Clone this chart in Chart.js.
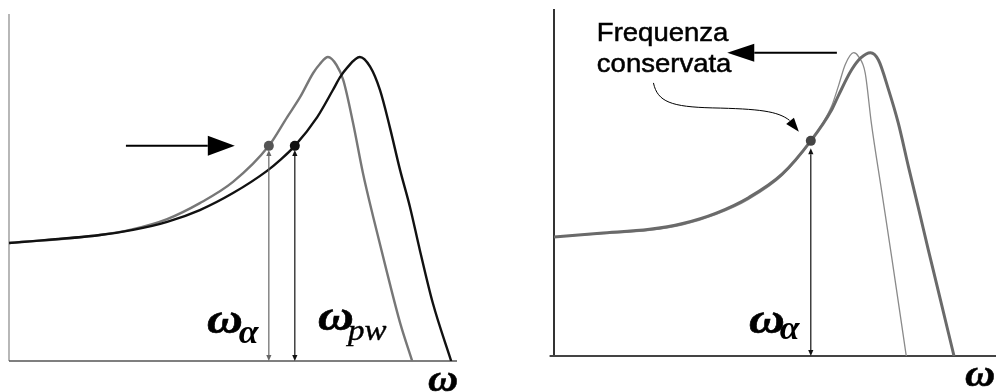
<!DOCTYPE html>
<html>
<head>
<meta charset="utf-8">
<script src="https://cdn.jsdelivr.net/npm/chart.js@4.4.0/dist/chart.umd.min.js"></script>
<style>
  html, body { margin: 0; padding: 0; background: #fff; overflow: hidden; }
  #wrap { position: relative; width: 1001px; height: 392px; }
  .panel { position: absolute; top: 0; height: 392px; }
  #pl { left: 0; width: 500px; }
  #pr { left: 500px; width: 501px; }
</style>
</head>
<body>
<div id="wrap">
  <div class="panel" id="pl"><canvas id="left"></canvas></div>
  <div class="panel" id="pr"><canvas id="right"></canvas></div>
</div>
<script>
// ---- Left panel: original response (grey) and pre-warped response (black) ----
const leftGreyX  = [0, 20.3, 27.7, 35.3, 42.6, 50.0, 58.0, 62.1, 65.0, 67.9, 69.4, 71.2, 73.1, 74.6, 76.8, 79.0, 81.3, 84.4, 87.3, 90.0];
const leftGreyY  = [34.0, 36.3, 38.0, 40.9, 45.5, 51.6, 62.0, 70.3, 76.1, 83.0, 85.6, 87.6, 85.3, 81.0, 68.6, 54.2, 41.5, 25.4, 11.0, 0];
const leftBlackX = [0, 20.3, 27.7, 35.3, 42.6, 50.0, 57.6, 60.5, 63.8, 68.8, 72.3, 73.9, 75.4, 78.3, 80.6, 82.8, 85.0, 87.3, 89.5, 91.7, 94.6, 98.7];
const leftBlackY = [34.0, 36.3, 37.8, 40.1, 43.5, 48.4, 54.8, 57.9, 62.0, 70.3, 78.1, 81.8, 84.4, 87.6, 84.8, 78.1, 67.4, 55.0, 44.4, 32.0, 16.7, 0];
// marked frequencies: ω_α on the grey curve, ω_pw on the black curve
const leftAlphaPoint = [58.0, 62.0];
const leftPwPoint    = [63.8, 62.0];

// ---- Right panel: two responses sharing the preserved frequency ----
const rightThinX  = [0, 10.4, 21.6, 29.1, 36.7, 44.1, 51.6, 58.1, 62.8, 64.4, 65.9, 67.8, 68.9, 70.4, 71.8, 74.1, 76.4, 79.7];
const rightThinY  = [34.3, 35.2, 36.2, 37.8, 40.8, 45.2, 52.0, 62.0, 72.0, 78.0, 84.0, 87.4, 86.3, 81.6, 67.1, 47.8, 28.5, 0];
const rightThickX = [0, 10.4, 21.6, 29.1, 36.7, 44.1, 51.6, 58.1, 62.8, 64.4, 67.3, 69.4, 71.6, 73.4, 75.7, 77.9, 80.2, 82.4, 84.7, 86.9, 90.5];
const rightThickY = [34.3, 35.4, 36.5, 38.2, 41.2, 45.7, 52.4, 62.0, 70.9, 75.2, 82.4, 85.9, 87.4, 85.3, 76.7, 67.1, 54.5, 42.9, 30.5, 19.0, 0];
const rightAlphaPoint = [58.1, 62.0];

const toPoints = (xs, ys) => xs.map((x, i) => ({ x, y: ys[i] }));

// Draws axes, arrows and labels in data coordinates through the chart scales
const sketchPlugin = {
  id: 'sketch',
  beforeDatasetsDraw(chart, args, opts) {
    const { ctx, scales: { x, y } } = chart;
    ctx.save();
    ctx.lineCap = 'butt';
    for (const a of opts.axes || []) {
      ctx.strokeStyle = a.color;
      ctx.lineWidth = a.width;
      ctx.beginPath();
      ctx.moveTo(x.getPixelForValue(a.from[0]), y.getPixelForValue(a.from[1]));
      ctx.lineTo(x.getPixelForValue(a.to[0]), y.getPixelForValue(a.to[1]));
      ctx.stroke();
    }
    ctx.restore();
  },
  afterDatasetsDraw(chart, args, opts) {
    const { ctx, scales: { x, y } } = chart;
    const P = p => [x.getPixelForValue(p[0]), y.getPixelForValue(p[1])];
    const head = (tip, from, len, half, color) => {
      const ang = Math.atan2(tip[1] - from[1], tip[0] - from[0]);
      const bx = tip[0] - len * Math.cos(ang), by = tip[1] - len * Math.sin(ang);
      const nx = -Math.sin(ang) * half, ny = Math.cos(ang) * half;
      ctx.fillStyle = color;
      ctx.beginPath();
      ctx.moveTo(tip[0], tip[1]);
      ctx.lineTo(bx + nx, by + ny);
      ctx.lineTo(bx - nx, by - ny);
      ctx.closePath();
      ctx.fill();
      return [bx, by];
    };
    const label = (str, px, py, font, stretch, weight) => {
      ctx.save();
      ctx.font = font;
      ctx.translate(px, py);
      ctx.scale(stretch || 1, 1);
      ctx.fillText(str, 0, 0);
      if (weight) { ctx.lineWidth = weight; ctx.strokeText(str, 0, 0); }
      const w = ctx.measureText(str).width * (stretch || 1);
      ctx.restore();
      return w;
    };
    ctx.save();
    for (const a of opts.arrows || []) {
      const s = P(a.from), e = P(a.to);
      let s2 = s, e2 = e;
      if (a.headEnd) e2 = head(e, s, a.len, a.half, a.color);
      if (a.headStart) s2 = head(s, e, a.len, a.half, a.color);
      ctx.strokeStyle = a.color;
      ctx.lineWidth = a.width;
      ctx.beginPath();
      ctx.moveTo(s2[0], s2[1]);
      ctx.lineTo(e2[0], e2[1]);
      ctx.stroke();
    }
    for (const c of opts.curves || []) {
      const pts = c.points.map(P);
      ctx.strokeStyle = c.color;
      ctx.lineWidth = c.width;
      ctx.beginPath();
      ctx.moveTo(pts[0][0], pts[0][1]);
      for (let i = 1; i + 2 < pts.length; i += 3) {
        ctx.bezierCurveTo(pts[i][0], pts[i][1], pts[i + 1][0], pts[i + 1][1], pts[i + 2][0], pts[i + 2][1]);
      }
      ctx.stroke();
      const last = pts[pts.length - 1];
      head(P(c.tip), last, c.len, c.half, c.color);
    }
    for (const t of opts.texts || []) {
      const [px, py] = P(t.at);
      ctx.fillStyle = t.color;
      ctx.strokeStyle = t.color;
      ctx.textBaseline = 'alphabetic';
      ctx.textAlign = 'left';
      let w = 0;
      (t.lines || [t.text]).forEach((line, i) => {
        const lw = label(line, px, py + i * (t.lineHeight || 0), t.font, t.stretch, t.weight);
        if (i === 0) w = lw;
      });
      if (t.sub) {
        label(t.sub.text, px + w + t.sub.dx, py + t.sub.dy, t.sub.font, t.sub.stretch, t.sub.weight);
      }
    }
    ctx.restore();
  }
};

const omegaFont = 'bold italic 42px "Liberation Serif", serif';
const subAlphaFont = 'bold italic 34px "Liberation Serif", serif';
const subPwFont = 'italic 30px "Liberation Serif", serif';
const axisOmegaFont = 'bold italic 38px "Liberation Serif", serif';

function baseOptions(padding, sketch) {
  return {
    responsive: true,
    maintainAspectRatio: false,
    animation: false,
    devicePixelRatio: 1,
    events: [],
    layout: { padding },
    scales: {
      x: { type: 'linear', min: 0, max: 100, display: false },
      y: { type: 'linear', min: 0, max: 100, display: false }
    },
    elements: { point: { radius: 0 } },
    plugins: { legend: { display: false }, tooltip: { enabled: false }, sketch }
  };
}

new Chart(document.getElementById('left'), {
  type: 'line',
  data: {
    datasets: [
      { type: 'scatter', data: [{ x: leftAlphaPoint[0], y: leftAlphaPoint[1] }], pointRadius: 5, pointBackgroundColor: '#555', pointBorderWidth: 0, showLine: false },
      { type: 'scatter', data: [{ x: leftPwPoint[0], y: leftPwPoint[1] }], pointRadius: 5, pointBackgroundColor: '#111', pointBorderWidth: 0, showLine: false },
      { data: toPoints(leftBlackX, leftBlackY), borderColor: '#111', borderWidth: 2.4, cubicInterpolationMode: 'monotone', pointRadius: 0, fill: false },
      { data: toPoints(leftGreyX, leftGreyY), borderColor: '#777', borderWidth: 2.4, cubicInterpolationMode: 'monotone', pointRadius: 0, fill: false }
    ]
  },
  options: baseOptions({ left: 9, right: 43, top: 14, bottom: 31 }, {
    axes: [
      { from: [0, 0], to: [0, 100], color: '#888', width: 1.2 },
      { from: [0, 0], to: [100, 0], color: '#555', width: 1.6 }
    ],
    arrows: [
      { from: [26.1, 62.0], to: [50.4, 62.0], color: '#000', width: 2, headEnd: true, len: 27, half: 10 },
      { from: [leftAlphaPoint[0], 0], to: [leftAlphaPoint[0], 60.8], color: '#666', width: 1.2, headEnd: true, headStart: true, len: 6, half: 2.6 },
      { from: [leftPwPoint[0], 0], to: [leftPwPoint[0], 60.8], color: '#111', width: 1.2, headEnd: true, headStart: true, len: 6, half: 2.6 }
    ],
    texts: [
      { text: 'ω', at: [44.2, 8.1], font: omegaFont, stretch: 1.18, weight: 0.6, color: '#000',
        sub: { text: 'α', font: subAlphaFont, stretch: 1.05, dx: -4, dy: 10 } },
      { text: 'ω', at: [69.0, 8.9], font: omegaFont, stretch: 1.18, weight: 0.6, color: '#000',
        sub: { text: 'pw', font: subPwFont, stretch: 1.1, dx: -6, dy: 10, weight: 0.4 } },
      { text: 'ω', at: [93.5, -8.6], font: axisOmegaFont, stretch: 1.1, weight: 0.5, color: '#000' }
    ]
  }),
  plugins: [sketchPlugin]
});

new Chart(document.getElementById('right'), {
  type: 'line',
  data: {
    datasets: [
      { type: 'scatter', data: [{ x: rightAlphaPoint[0], y: rightAlphaPoint[1] }], pointRadius: 5, pointBackgroundColor: '#444', pointBorderWidth: 0, showLine: false },
      { data: toPoints(rightThickX, rightThickY), borderColor: '#6a6a6a', borderWidth: 3, cubicInterpolationMode: 'monotone', pointRadius: 0, fill: false },
      { data: toPoints(rightThinX, rightThinY), borderColor: '#8a8a8a', borderWidth: 1.3, cubicInterpolationMode: 'monotone', pointRadius: 0, fill: false }
    ]
  },
  options: baseOptions({ left: 54, right: 3, top: 9, bottom: 36 }, {
    axes: [
      { from: [0, 0], to: [0, 100], color: '#333', width: 2 },
      { from: [-1, 0], to: [100, 0], color: '#444', width: 2 }
    ],
    arrows: [
      { from: [64.0, 87.4], to: [39.2, 87.4], color: '#000', width: 2, headEnd: true, len: 27, half: 9 },
      { from: [rightAlphaPoint[0], 0], to: [rightAlphaPoint[0], 59.9], color: '#111', width: 1.2, headEnd: true, headStart: true, len: 6, half: 2.6 }
    ],
    curves: [
      { points: [[22.5, 78.7], [23.4, 73.2], [26.6, 71.8], [35.8, 71.5], [46.4, 71.2], [50.6, 70.6], [53.3, 67.9]],
        tip: [55.4, 64.6], color: '#000', width: 1, len: 14, half: 5 }
    ],
    texts: [
      { lines: ['Frequenza', 'conservata'], text: 'Frequenza', at: [9.7, 90.8], lineHeight: 31,
        font: '25px "Liberation Sans", Arial, sans-serif', stretch: 1.1, weight: 0.5, color: '#000' },
      { text: 'ω', at: [44.1, 6.6], font: omegaFont, stretch: 1.18, weight: 0.6, color: '#000',
        sub: { text: 'α', font: subAlphaFont, stretch: 1.05, dx: -5, dy: 6 } },
      { text: 'ω', at: [93.0, -8.6], font: axisOmegaFont, stretch: 1.1, weight: 0.5, color: '#000' }
    ]
  }),
  plugins: [sketchPlugin]
});
</script>
</body>
</html>
